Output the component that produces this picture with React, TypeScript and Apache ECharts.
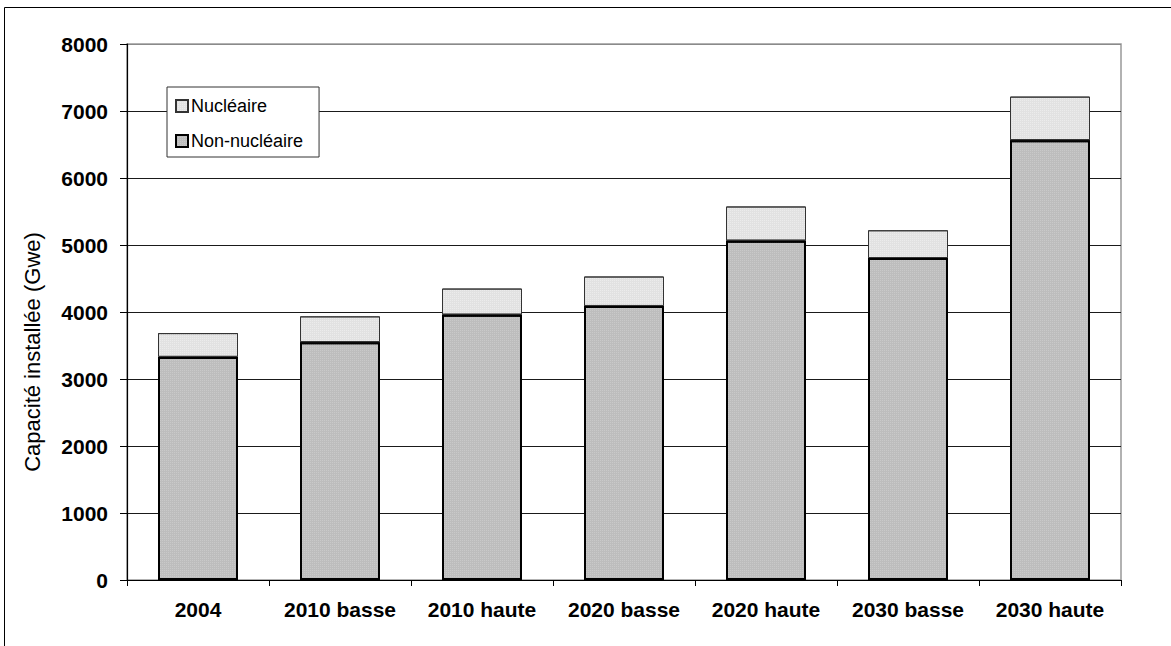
import React, { useEffect, useRef } from "react";
import * as echarts from "echarts";

const categories = ["2004", "2010 basse", "2010 haute", "2020 basse", "2020 haute", "2030 basse", "2030 haute"];
const nonNucleaire = [3330, 3550, 3960, 4090, 5065, 4805, 6565];
const nucleaire = [355, 385, 390, 440, 510, 415, 650];
const yTicks = [0, 1000, 2000, 3000, 4000, 5000, 6000, 7000, 8000];

const FONT = 'Arial, "Liberation Sans", sans-serif';

export default function App() {
  const ref = useRef<HTMLDivElement>(null);
  useEffect(() => {
    if (!ref.current) return;
    const chart = echarts.init(ref.current, null, { renderer: "svg" });
    const gridColors = yTicks.map((v, i) => (i === yTicks.length - 1 ? "#8a8a8a" : "#1a1a1a"));
    chart.setOption({
      animation: false,
      backgroundColor: "#ffffff",
      textStyle: { fontFamily: FONT },
      graphic: [
        {
          type: "rect",
          shape: { x: 4.5, y: 7.5, width: 1300, height: 800 },
          style: { fill: "none", stroke: "#000", lineWidth: 1 },
          silent: true,
          z: -1,
        },
        {
          type: "text",
          x: 32,
          y: 352,
          rotation: Math.PI / 2,
          style: {
            text: "Capacité installée (Gwe)",
            font: `22px ${FONT}`,
            fill: "#000",
            align: "center",
            verticalAlign: "middle",
          },
        },
      ],
      legend: {
        orient: "vertical",
        left: 167,
        top: 87,
        data: ["Nucléaire", "Non-nucléaire"],
        itemWidth: 12,
        itemHeight: 12,
        itemGap: 17,
        padding: [10, 16, 7, 8],
        backgroundColor: "#fff",
        borderColor: "#333",
        borderWidth: 1,
        borderRadius: 0,
        textStyle: { fontFamily: FONT, fontSize: 18, color: "#000", padding: [3, 0, 0, -2] },
        icon: "rect",
      },
      grid: {
        left: 127,
        top: 44,
        right: 50,
        bottom: 66,
        show: true,
        borderColor: "#999",
        borderWidth: 1.5,
        backgroundColor: "transparent",
      },
      xAxis: {
        type: "category",
        data: categories,
        axisLine: { lineStyle: { color: "#000", width: 1.2 } },
        axisTick: { show: true, length: 6, lineStyle: { color: "#000" } },
        axisLabel: {
          fontFamily: FONT,
          fontSize: 21,
          fontWeight: "bold",
          color: "#000",
          margin: 19,
          interval: 0,
        },
      },
      yAxis: {
        type: "value",
        min: 0,
        max: 8000,
        interval: 1000,
        axisLine: { show: true, lineStyle: { color: "#000", width: 1.2 } },
        axisTick: { show: true, length: 7, lineStyle: { color: "#000" } },
        axisLabel: {
          fontFamily: FONT,
          fontSize: 21,
          fontWeight: "bold",
          color: "#000",
          margin: 19,
          formatter: (v: number) => String(v),
        },
        splitLine: { show: true, lineStyle: { color: gridColors, width: 1 } },
      },
      series: [
        {
          name: "Non-nucléaire",
          type: "bar",
          stack: "total",
          barWidth: 80,
          data: nonNucleaire,
          itemStyle: {
            color: "#bdbdbd",
            borderColor: "#000",
            borderWidth: 2,
            decal: {
              symbol: "rect",
              symbolSize: 1,
              dashArrayX: [1, 1],
              dashArrayY: [1, 1],
              color: "rgba(255,255,255,0.18)",
            },
          },
          z: 3,
        },
        {
          name: "Nucléaire",
          type: "bar",
          stack: "total",
          barWidth: 80,
          data: nucleaire,
          itemStyle: {
            color: "#e2e2e2",
            borderColor: "#333",
            borderWidth: 1,
            decal: {
              symbol: "rect",
              symbolSize: 1,
              dashArrayX: [1, 1],
              dashArrayY: [1, 1],
              color: "rgba(255,255,255,0.35)",
            },
          },
          z: 2,
        },
      ],
    });
    return () => chart.dispose();
  }, []);
  return (
    <div
      ref={ref}
      style={{ position: "fixed", left: 0, top: 0, width: 1171, height: 646 }}
    />
  );
}
